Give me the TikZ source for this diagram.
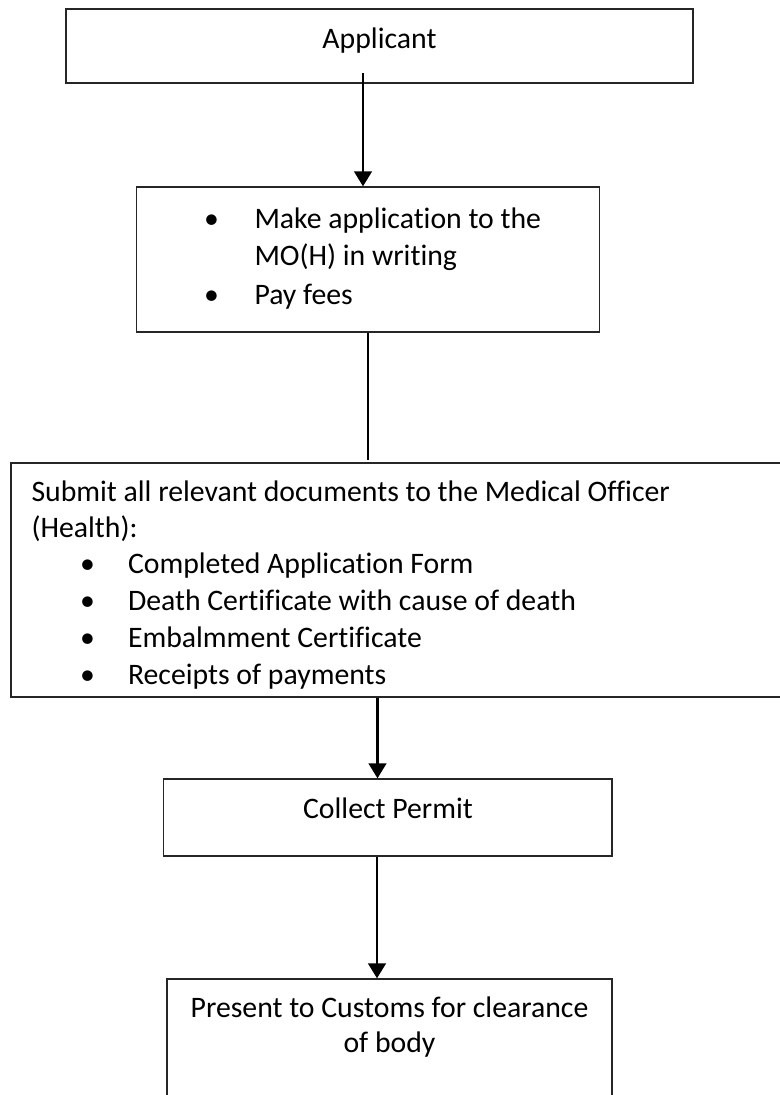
\documentclass[tikz,border=0pt]{standalone}
\usepackage{fontspec}
\setmainfont{Carlito}[Ligatures={NoCommon}]
\usetikzlibrary{arrows.meta,fit}
\begin{document}
\begin{tikzpicture}[x=0.4pt,y=-0.4pt,
  box/.style={draw=black!85, line width=0.5pt, inner sep=0pt, rectangle},
  txt/.style={inner sep=0pt, font=\fontsize{11.9}{14.8}\selectfont},
  arr/.style={line width=1.1pt, -{Triangle[width=7pt,length=6pt]}},
  thin/.style={line width=0.45pt}]
\useasboundingbox (0,0) rectangle (780,1095);
\clip (0,0) rectangle (780,1095);
% boxes
\node[box, fit={(66,9) (693,83)}] (A) {};
\node[box, fit={(136.5,187) (599.5,332)}] (B) {};
\node[box, fit={(11,463) (800,697)}] (C) {};
\node[box, fit={(163.5,779) (612,856)}] (D) {};
\node[box, fit={(167,979) (612,1120)}] (E) {};
% texts
\node[txt, anchor=base] (tA) at (379.5,48) {Applicant};
\node[txt, anchor=base] (bB1) at (211.5,228) {•};
\node[txt, anchor=base west] (tB1) at (254,228) {Make application to the};
\node[txt, anchor=base west] (tB2) at (254,265) {MO(H) in writing};
\node[txt, anchor=base] (bB2) at (211.5,304) {•};
\node[txt, anchor=base west] (tB3) at (254,304) {Pay fees};
\node[txt, anchor=base west] (tC1) at (31,501) {Submit all relevant documents to the Medical Officer};
\node[txt, anchor=base west] (tC2) at (31,537) {(Health):};
\node[txt, anchor=base] (bC1) at (87.5,573) {•};
\node[txt, anchor=base west] (tC3) at (127.5,573) {Completed Application Form};
\node[txt, anchor=base] (bC2) at (87.5,610) {•};
\node[txt, anchor=base west] (tC4) at (127.5,610) {Death Certificate with cause of death};
\node[txt, anchor=base] (bC3) at (87.5,647) {•};
\node[txt, anchor=base west] (tC5) at (127.5,647) {Embalmment Certificate};
\node[txt, anchor=base] (bC4) at (87.5,684) {•};
\node[txt, anchor=base west] (tC6) at (127.5,684) {Receipts of payments};
\node[txt, anchor=base] (tD) at (388,818) {Collect Permit};
\node[txt, anchor=base] (tE1) at (389.5,1017) {Present to Customs for clearance};
\node[txt, anchor=base] (tE2) at (389.5,1052) {of body};
% connectors
\coordinate (a1) at (363,73);
\draw[arr] (a1) -- (B.north -| a1);
\coordinate (l1) at (368,460);
\draw[thin] (B.south -| l1) -- (l1);
\coordinate (a2) at (377.5,700);
\draw[arr] (C.south -| a2) -- (D.north -| a2);
\coordinate (a3) at (377,860);
\draw[arr] (D.south -| a3) -- (E.north -| a3);
\end{tikzpicture}
\end{document}
